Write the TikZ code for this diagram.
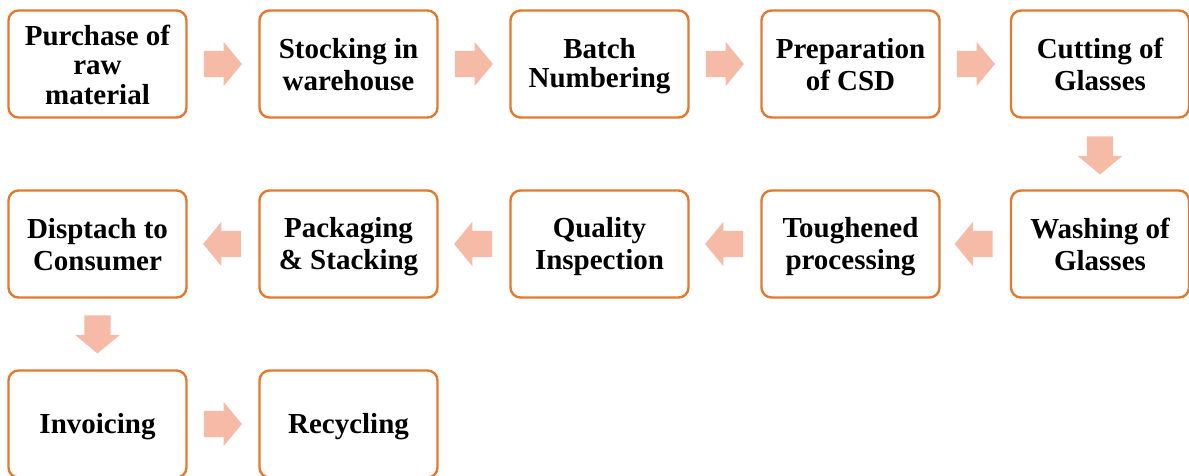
\documentclass[tikz,border=0pt]{standalone}
\usepackage{fontspec}
\setmainfont{Liberation Serif}
\usetikzlibrary{shapes.arrows,calc}
\definecolor{boxorange}{HTML}{E2792F}
\definecolor{arrowfill}{HTML}{F5BBA6}
\newcommand\ls{\rule[-3.5pt]{0pt}{28pt}}
\tikzset{
  x=1pt,y=-1pt,
  stepbox/.style={draw=boxorange, line width=2.4pt, rounded corners=10pt,
    minimum width=178pt, minimum height=107pt, align=center, inner sep=0pt,
    font=\fontsize{29}{29.5}\selectfont\bfseries},
  blockarrow/.style={single arrow, fill=arrowfill, draw=none, anchor=tail,
    minimum height=38pt, inner xsep=0pt, inner ysep=13pt,
    single arrow head extend=9pt, single arrow tip angle=101,
    single arrow head indent=0pt}
}
\begin{document}
\begin{tikzpicture}
\useasboundingbox (0,0) rectangle (1189,475);
% row 1
\node[stepbox] (a1) at (97.5,64) {Purchase of\ls\\raw\ls\\material\ls};
\node[stepbox] (a2) at (348.5,64) {Stocking in\ls\\warehouse\ls};
\node[stepbox] (a3) at (599.5,64) {Batch\ls\\Numbering\ls};
\node[stepbox] (a4) at (850.5,64) {Preparation\ls\\of CSD\ls};
\node[stepbox] (a5) at (1100,64) {Cutting of\ls\\Glasses\ls};
% row 2
\node[stepbox] (b5) at (1100,244) {Washing of\ls\\Glasses\ls};
\node[stepbox] (b4) at (850.5,244) {Toughened\ls\\processing\ls};
\node[stepbox] (b3) at (599.5,244) {Quality\ls\\Inspection\ls};
\node[stepbox] (b2) at (348.5,244) {Packaging\ls\\\& Stacking\ls};
\node[stepbox] (b1) at (97.5,244) {Disptach to\ls\\Consumer\ls};
% row 3
\node[stepbox] (c1) at (97.5,424) {Invoicing\ls};
\node[stepbox] (c2) at (348.5,424) {Recycling\ls};
% arrows
\node[blockarrow] at ($(a1.east)+(16,0)$) {};
\node[blockarrow] at ($(a2.east)+(16,0)$) {};
\node[blockarrow] at ($(a3.east)+(16,0)$) {};
\node[blockarrow] at ($(a4.east)+(16,0)$) {};
\node[blockarrow, rotate=-90] at ($(a5.south)+(0,17.5)$) {};
\node[blockarrow, rotate=180] at ($(b5.west)+(-17,0)$) {};
\node[blockarrow, rotate=180] at ($(b4.west)+(-17,0)$) {};
\node[blockarrow, rotate=180] at ($(b3.west)+(-17,0)$) {};
\node[blockarrow, rotate=180] at ($(b2.west)+(-17,0)$) {};
\node[blockarrow, rotate=-90] at ($(b1.south)+(0,16.5)$) {};
\node[blockarrow] at ($(c1.east)+(16,0)$) {};
\end{tikzpicture}
\end{document}
